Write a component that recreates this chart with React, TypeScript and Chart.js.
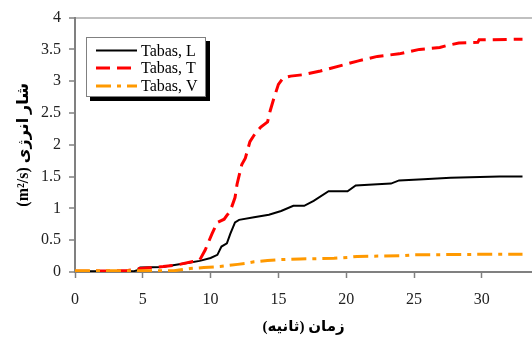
import React, { useEffect, useRef } from "react";
import { Chart, registerables } from "chart.js";

Chart.register(...registerables);

const seriesNames = ["Tabas, L", "Tabas, T", "Tabas, V"];

const lTime = [0, 4.3, 4.6, 4.8, 6.5, 7.0, 8.5, 9.2, 10.0, 10.5, 10.8, 11.2, 11.45, 11.8, 12.1, 13.2, 14.3, 15.2, 16.1, 16.9, 17.6, 18.7, 20.1, 20.7, 22.3, 23.3, 23.9, 25.7, 27.7, 31.3, 33.0];
const lValues = [0.01, 0.01, 0.03, 0.07, 0.08, 0.10, 0.15, 0.175, 0.22, 0.27, 0.40, 0.45, 0.60, 0.78, 0.82, 0.86, 0.90, 0.96, 1.04, 1.04, 1.12, 1.27, 1.27, 1.36, 1.38, 1.39, 1.44, 1.46, 1.48, 1.50, 1.50];

const tTime = [0, 3.8, 4.56, 5.5, 6.5, 7.5, 8.7, 9.2, 9.6, 10.1, 10.5, 11.0, 11.2, 11.45, 11.8, 11.95, 12.3, 12.56, 12.9, 13.2, 13.7, 14.2, 14.4, 14.65, 15.0, 15.35, 15.9, 16.75, 18.1, 19.6, 20.9, 22.3, 23.9, 25.4, 26.9, 27.5, 28.3, 29.7, 29.8, 33.0];
const tValues = [0.01, 0.02, 0.05, 0.065, 0.085, 0.11, 0.165, 0.19, 0.345, 0.60, 0.78, 0.83, 0.89, 0.96, 1.17, 1.38, 1.69, 1.79, 2.05, 2.15, 2.28, 2.36, 2.54, 2.72, 2.95, 3.05, 3.08, 3.10, 3.16, 3.245, 3.32, 3.39, 3.43, 3.50, 3.53, 3.565, 3.60, 3.61, 3.65, 3.66];

const vTime = [0, 7.3, 7.8, 8.5, 9.5, 10.7, 12.0, 12.7, 13.2, 14.2, 15.15, 16.6, 19.1, 20.1, 20.8, 24.0, 25.0, 31.4, 33.0];
const vValues = [0.02, 0.02, 0.035, 0.055, 0.07, 0.087, 0.12, 0.14, 0.16, 0.18, 0.195, 0.205, 0.215, 0.23, 0.245, 0.255, 0.27, 0.28, 0.28];

const xTickValues = [0, 5, 10, 15, 20, 25, 30];
const yTickValues = [0, 0.5, 1, 1.5, 2, 2.5, 3, 3.5, 4];

const xTitle = "زمان (ثانیه)";
const yTitle = "(m²/s) شار انرژی";

const colors = ["#000000", "#FF0000", "#FF9900"];
const dashes: number[][] = [[], [14, 7], [15, 6, 4, 6]];
const widths = [2, 3, 3];

const serif = "'Liberation Serif', 'DejaVu Serif', serif";
const titleFont = "'Liberation Serif', 'DejaVu Sans', sans-serif";

const zip = (xs: number[], ys: number[]) => xs.map((x, i) => ({ x, y: ys[i] }));

const legendPlugin = {
  id: "boxLegend",
  afterDatasetsDraw(chart: any) {
    const ctx = chart.ctx;
    const bx = 86, by = 37, bw = 120, bh = 60;
    ctx.save();
    ctx.fillStyle = "#000";
    ctx.fillRect(bx + 4, by + 4, bw, bh);
    ctx.fillStyle = "#fff";
    ctx.fillRect(bx, by, bw, bh);
    ctx.strokeStyle = "#808080";
    ctx.lineWidth = 1;
    ctx.strokeRect(bx + 0.5, by + 0.5, bw - 1, bh - 1);
    const rows = [50.5, 68, 86];
    seriesNames.forEach((name, i) => {
      ctx.beginPath();
      ctx.setLineDash(dashes[i]);
      ctx.strokeStyle = colors[i];
      ctx.lineWidth = widths[i];
      ctx.moveTo(96, rows[i]);
      ctx.lineTo(137, rows[i]);
      ctx.stroke();
      ctx.setLineDash([]);
      ctx.fillStyle = "#000";
      ctx.font = `16px ${serif}`;
      ctx.textBaseline = "middle";
      ctx.textAlign = "left";
      ctx.fillText(name, 141, rows[i] + 1);
    });
    ctx.restore();
  },
};

export default function App() {
  const ref = useRef<HTMLCanvasElement>(null);
  useEffect(() => {
    if (!ref.current) return;
    const datasets = [
      { label: seriesNames[0], data: zip(lTime, lValues), order: 3 },
      { label: seriesNames[1], data: zip(tTime, tValues), order: 2 },
      { label: seriesNames[2], data: zip(vTime, vValues), order: 1 },
    ].map((d, i) => ({
      ...d,
      borderColor: colors[i],
      backgroundColor: colors[i],
      borderWidth: widths[i],
      borderDash: dashes[i],
      pointRadius: 0,
      tension: 0,
      fill: false,
    }));
    const chart = new Chart(ref.current, {
      type: "line",
      data: { datasets },
      plugins: [legendPlugin],
      options: {
        animation: false,
        responsive: false,
        layout: { padding: { top: 14, right: 0, left: 0, bottom: 0 } },
        plugins: { legend: { display: false }, tooltip: { enabled: false } },
        scales: {
          x: {
            type: "linear",
            min: 0,
            max: 33.7,
            afterBuildTicks: (s: any) => {
              s.ticks = xTickValues.map((v) => ({ value: v }));
            },
            afterFit: (s: any) => {
              s.height = 67;
            },
            grid: {
              drawOnChartArea: false,
              drawTicks: true,
              tickLength: 6,
              tickColor: "#808080",
              tickWidth: 1.5,
            },
            border: { color: "#808080", width: 2 },
            ticks: {
              color: "#222",
              font: { family: serif, size: 16 },
              padding: 12,
              maxRotation: 0,
              autoSkip: false,
            },
            title: {
              display: true,
              text: xTitle,
              color: "#000",
              font: { family: titleFont, size: 15, weight: "bold" },
              padding: { top: 0, bottom: 3 },
            },
          },
          y: {
            type: "linear",
            min: 0,
            max: 4,
            afterBuildTicks: (s: any) => {
              s.ticks = yTickValues.map((v) => ({ value: v }));
            },
            afterFit: (s: any) => {
              s.width = 75;
            },
            grid: {
              drawOnChartArea: true,
              drawTicks: true,
              tickLength: 6,
              color: (c: any) => (c.tick && c.tick.value === 4 ? "#c0c0c0" : "rgba(0,0,0,0)"),
              lineWidth: 2,
              tickColor: "#808080",
              tickWidth: 1.5,
            },
            border: { color: "#808080", width: 2 },
            ticks: {
              color: "#222",
              font: { family: serif, size: 16 },
              padding: 8,
              autoSkip: false,
              callback: (v: any) => String(v),
            },
            title: {
              display: true,
              text: yTitle,
              color: "#000",
              font: { family: titleFont, size: 16, weight: "bold" },
              padding: { top: 14, bottom: 0 },
            },
          },
        },
      },
    } as any);
    return () => chart.destroy();
  }, []);
  return (
    <div style={{ position: "absolute", left: 0, top: 0, width: 532, height: 339, background: "#fff" }}>
      <canvas ref={ref} width={532} height={339} />
    </div>
  );
}
